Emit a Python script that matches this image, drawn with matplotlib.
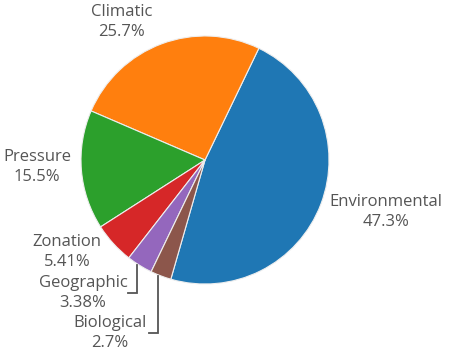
import numpy as np
import matplotlib
matplotlib.use('Agg')
import matplotlib.pyplot as plt

# Counts behind the percentages
categories = ['Environmental', 'Climatic', 'Pressure', 'Zonation', 'Geographic', 'Biological']
counts = [70, 38, 23, 8, 5, 4]
colors = ['#1f77b4', '#ff7f0e', '#2ca02c', '#d62728', '#9467bd', '#8c564b']

W, H = 452, 362
fig = plt.figure(figsize=(W / 100, H / 100), dpi=100)
ax = fig.add_axes([0, 0, 1, 1])

cx, cy, r = 205, H - 160, 124
start = 254
wedges, _ = ax.pie(counts, colors=colors, startangle=start, counterclock=True,
                   center=(cx, cy), radius=r, frame=True,
                   wedgeprops=dict(edgecolor='#eeeeee', linewidth=0.8))
ax.set_xlim(0, W)
ax.set_ylim(0, H)
ax.set_aspect('equal')
ax.axis('off')

total = sum(counts)
pct = [100 * c / total for c in counts]

# label anchors in pixel coordinates (from top), with leader flag
label_pos = {
    'Environmental': (386, 212, False),
    'Climatic': (122, 22, False),
    'Pressure': (37, 167, False),
    'Zonation': (67, 252, False),
    'Geographic': (83, 293, True),
    'Biological': (110, 333, True),
}

font = dict(family=['Open Sans', 'DejaVu Sans'], size=12, color='#555555')
for w, name, p in zip(wedges, categories, pct):
    x, y, leader = label_pos[name]
    ax.text(x, H - y, f'{name}\n{p:.3g}%', ha='center', va='center',
            linespacing=1.35, **font)
    if leader:
        mid = np.deg2rad((w.theta1 + w.theta2) / 2)
        rx = cx + r * np.cos(mid) - 3
        ry = cy + r * np.sin(mid)
        ly = H - y
        ax.plot([rx, rx, rx - 9], [ry, ly, ly], color='#555555', lw=1.3,
                solid_joinstyle='miter')

fig.savefig('out.png', dpi=100, facecolor='white')
